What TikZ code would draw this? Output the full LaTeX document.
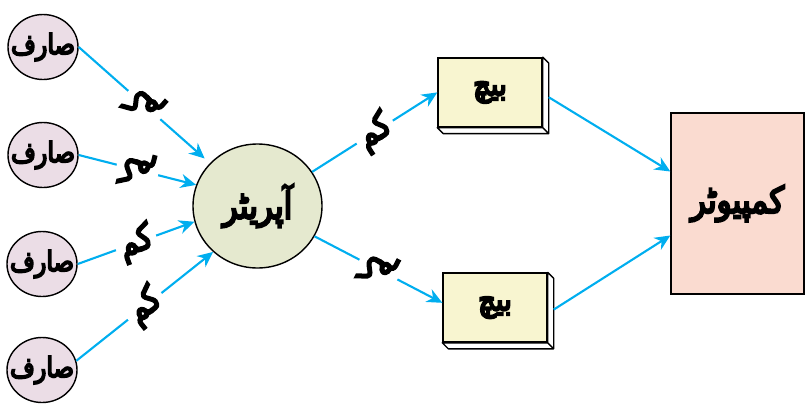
\documentclass[tikz,border=0pt]{standalone}
\usepackage{fontspec}
\usepackage{tikz}
\usetikzlibrary{arrows.meta,shapes.geometric}
\TeXXeTstate=1
\newfontfamily\urdu[Script=Arabic,FakeBold=6,FakeStretch=0.85]{DejaVu Sans}
\newcommand{\ur}[1]{{\urdu\beginR #1\endR}}

\definecolor{flowblue}{HTML}{00AEEF}
\definecolor{userfill}{HTML}{EBDDE6}
\definecolor{opfill}{HTML}{E5E9CF}
\definecolor{batchfill}{HTML}{F8F5D0}
\definecolor{compfill}{HTML}{FADBD0}

\tikzset{
  user/.style={ellipse,draw,line width=1pt,fill=userfill,inner sep=-6pt,
    minimum width=1.75cm,minimum height=1.625cm,font=\fontsize{20}{24}\selectfont},
  operator/.style={ellipse,draw,line width=1pt,fill=opfill,inner sep=0pt,
    minimum width=3.225cm,minimum height=3.1cm,font=\fontsize{26}{30}\selectfont},
  batch/.style={rectangle,draw,line width=1pt,fill=batchfill,
    minimum width=2.6cm,minimum height=1.725cm,font=\fontsize{23}{27}\selectfont},
  computer/.style={rectangle,draw,line width=1pt,fill=compfill,
    minimum width=3.325cm,minimum height=4.525cm,font=\fontsize{26}{30}\selectfont},
  depth/.style={draw,line width=1pt,fill=white,line join=round},
  flow/.style={draw=flowblue,line width=1.5pt,-{Stealth[length=11pt,width=10pt]}},
  job/.style={fill=white,text=black,inner sep=3pt,sloped,font=\fontsize{25}{29}\selectfont},
  jobflip/.style={job,rotate=180},
}

\begin{document}
\begin{tikzpicture}
  \useasboundingbox (0,0) rectangle (20.125,10.15);

  % users on the left
  \node[user] (u1) at (1.075,8.975) {\ur{صارف}};
  \node[user] (u2) at (1.075,6.275) {\ur{صارف}};
  \node[user] (u3) at (1.05,3.55) {\ur{صارف}};
  \node[user] (u4) at (1.05,0.9) {\ur{صارف}};

  \node[operator] (op) at (6.4375,5.0) {\ur{آپریٹر}};

  % batches, with a bit of depth to the lower right
  \node[batch] (b1) at (12.25,7.84) {\ur{بیچ}};
  \node[batch] (b2) at (12.375,2.46) {\ur{بیچ}};
  \foreach \b in {b1,b2}
    \draw[depth] (\b.north east) -- ++(0.15,-0.15)
      -- ([shift={(0.15,-0.15)}]\b.south east)
      -- ([shift={(0.15,-0.15)}]\b.south west)
      -- (\b.south west) -- (\b.south east) -- cycle
      (\b.south east) -- ++(0.15,-0.15);

  \node[computer] (comp) at (18.4375,5.0625) {\ur{کمپیوٹر}};

  % jobs going to the operator
  \draw[flow,shorten >=5pt] (u1.east) -- node[jobflip]{\ur{کم}} (op.138);
  \draw[flow] (u2.east) -- node[jobflip]{\ur{کم}} (op.161);
  \draw[flow] (u3.east) -- node[job]{\ur{کم}} (op.194);
  \draw[flow] (u4.15) -- node[job]{\ur{کم}} (op.226);

  % operator to batches
  \draw[flow] (op.32) -- node[job]{\ur{کم}} (b1.west);
  \draw[flow] (op.-28) -- node[jobflip]{\ur{کم}} ([yshift=0.12cm]b2.west);

  % batches to the computer
  \draw[flow] ([shift={(0.15,-0.12)}]b1.east) -- ([yshift=0.8cm]comp.west);
  \draw[flow] ([shift={(0.15,-0.05)}]b2.east) -- ([yshift=-0.8cm]comp.west);
\end{tikzpicture}
\end{document}
